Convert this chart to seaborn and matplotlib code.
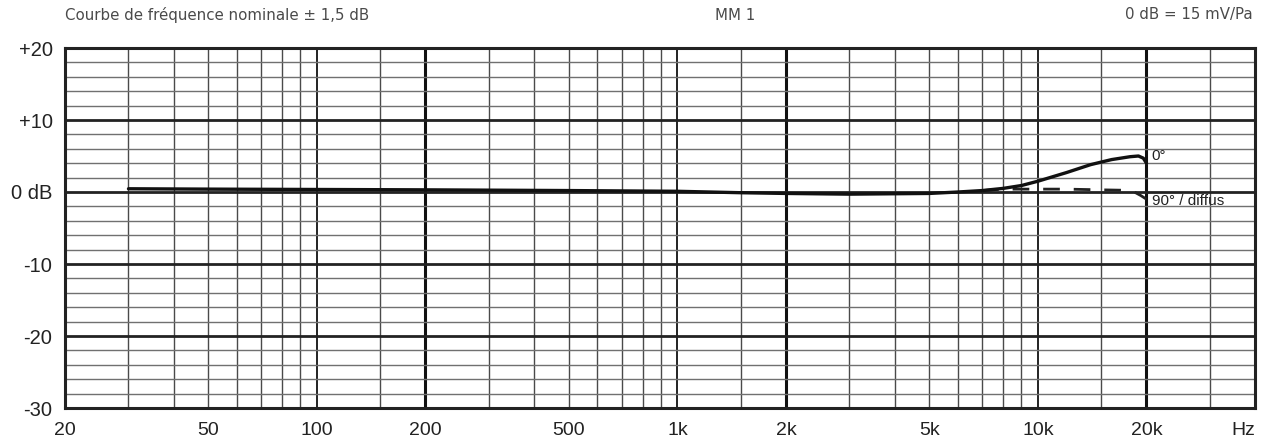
import numpy as np
import pandas as pd
import seaborn as sns
import matplotlib.pyplot as plt

# data
freq_0deg = [30, 50, 100, 200, 500, 1000, 1500, 2000, 3000, 5000, 6000, 7000, 8000, 9000,
             10000, 12000, 14000, 16000, 18000, 19000, 19600, 20000]
db_0deg = [0.45, 0.4, 0.35, 0.3, 0.2, 0.1, -0.1, -0.2, -0.3, -0.2, 0.0, 0.2, 0.5, 0.9,
           1.5, 2.7, 3.8, 4.5, 4.9, 5.0, 4.7, 4.0]

freq_90deg = [7000, 8000, 10000, 12000, 15000, 17000, 18500, 19300, 20000]
db_90deg = [0.2, 0.4, 0.4, 0.4, 0.3, 0.25, 0.0, -0.5, -1.0]

xtick_vals = [20, 50, 100, 200, 500, 1000, 2000, 5000, 10000, 20000, 40000]
xtick_labels = ["20", "50", "100", "200", "500", "1k", "2k", "5k", "10k", "20k", "Hz"]
ytick_vals = [20, 10, 0, -10, -20, -30]
ytick_labels = ["+20", "+10", "0 dB", "-10", "-20", "-30"]

title_left = "Courbe de fréquence nominale ± 1,5 dB"
title_mid = "MM 1"
title_right = "0 dB = 15 mV/Pa"

df0 = pd.DataFrame({"f": freq_0deg, "db": db_0deg})
df90 = pd.DataFrame({"f": freq_90deg, "db": db_90deg})

sns.set_style("white")
plt.rcParams['font.family'] = ['Liberation Sans', 'DejaVu Sans']

fig = plt.figure(figsize=(12.64, 4.45), dpi=100)
ax = fig.add_axes([65 / 1264, 1 - 408 / 445, (1255 - 65) / 1264, (408 - 48) / 445])
ax.set_xscale("log")
ax.set_xlim(20, 40000)
ax.set_ylim(-30, 20)

# grid: vertical lines
minor_v = []
for dec in [1, 10, 100, 1000]:
    for m in [30, 40, 50, 60, 70, 80, 90, 150]:
        v = m * dec
        if v < 40000:
            minor_v.append(v)
for v in minor_v:
    ax.axvline(v, color="#4a4a4a", lw=1.0, zorder=1)
for v in [100, 1000, 10000]:
    ax.axvline(v, color="#222222", lw=1.4, zorder=1)
for v in [200, 2000, 20000]:
    ax.axvline(v, color="#111111", lw=2.2, zorder=1)

# grid: horizontal lines
for h in range(-28, 20, 2):
    if h % 10 == 0:
        ax.axhline(h, color="#222222", lw=2.0, zorder=1)
    else:
        ax.axhline(h, color="#707070", lw=1.0, zorder=1)

sns.lineplot(data=df90, x="f", y="db", ax=ax, color="#222222", lw=2.0,
             linestyle=(0, (6, 5)), zorder=3)
sns.lineplot(data=df0, x="f", y="db", ax=ax, color="#111111", lw=2.4, zorder=4)

for sp in ax.spines.values():
    sp.set_color("#222222")
    sp.set_linewidth(2.2)

ax.set_xticks(xtick_vals)
ax.set_xticklabels(xtick_labels, fontsize=14, color="#222222")
ax.get_xticklabels()[-1].set_ha("right")
ax.minorticks_off()
ax.set_yticks(ytick_vals)
ax.set_yticklabels(ytick_labels, fontsize=14.5, color="#222222")
ax.tick_params(axis="x", length=0, pad=10)
ax.tick_params(axis="y", length=0, pad=9)
ax.set_xlabel("")
ax.set_ylabel("")

ax.text(20700, 5.0, "0°", fontsize=11, color="#222222", va="center")
ax.text(20700, -1.3, "90° / diffus", fontsize=11, color="#222222", va="center")

fig.text(65 / 1264, 1 - 15 / 445, title_left, fontsize=10.8, color="#4a4a4a",
         family="DejaVu Sans", va="center", ha="left")
fig.text(735 / 1264, 1 - 15 / 445, title_mid, fontsize=10.8, color="#4a4a4a",
         family="DejaVu Sans", va="center", ha="center")
fig.text(1253 / 1264, 1 - 15 / 445, title_right, fontsize=10.8, color="#4a4a4a",
         family="DejaVu Sans", va="center", ha="right")

fig.savefig("out.png", dpi=100)
